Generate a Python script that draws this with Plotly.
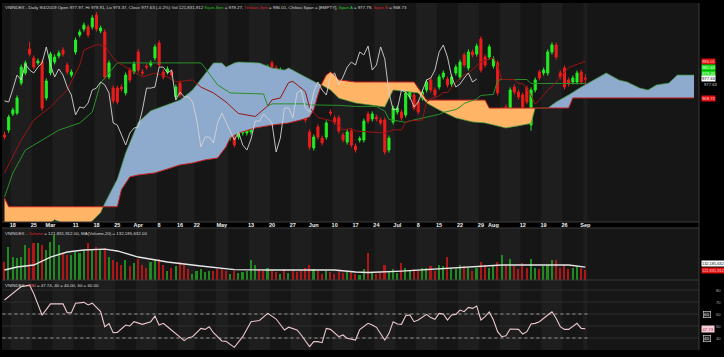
import numpy as np
import pandas as pd
import plotly.graph_objects as go

# ---------------- data ----------------
holidays = ["2019-04-15", "2019-04-30", "2019-05-01", "2019-09-02", "2019-09-03"]
trading_days = [d for d in pd.bdate_range("2019-02-14", "2019-10-10")
                if d.strftime("%Y-%m-%d") not in holidays]
N_BARS = 140  # 2019-02-14 .. 2019-09-04, the remaining slots are the projected cloud

tick_dates = ["2019-02-18", "2019-02-25", "2019-03-01", "2019-03-11", "2019-03-18", "2019-03-25",
              "2019-04-01", "2019-04-08", "2019-04-16", "2019-04-22", "2019-05-02", "2019-05-13",
              "2019-05-20", "2019-05-27", "2019-06-03", "2019-06-10", "2019-06-17", "2019-06-24",
              "2019-07-01", "2019-07-08", "2019-07-15", "2019-07-22", "2019-07-29", "2019-08-01",
              "2019-08-12", "2019-08-19", "2019-08-26", "2019-09-04"]
tick_text = ["18", "25", "Mar", "11", "18", "25", "Apr", "8", "16", "22", "May", "13", "20", "27",
             "Jun", "10", "17", "24", "Jul", "8", "15", "22", "29", "Aug", "12", "19", "26", "Sep"]

opens = [951.0, 953.3, 961.0, 961.4, 975.7, 980.5, 991.9, 987.6, 985.3, 985.7,
         968.6, 980.5, 985.7, 988.6, 991.4, 984.3, 979.5, 990.5, 998.6, 1001.4,
         1002.4, 1002.4, 1008.1, 1000.5, 1000.0, 978.6, 973.3, 973.3, 973.8, 971.0,
         981.9, 981.0, 990.5, 981.0, 983.8, 984.3, 987.6, 994.8, 981.0, 981.0,
         981.0, 969.1, 975.7, 967.6, 966.7, 961.9, 962.9, 966.7, 971.0, 973.3,
         975.7, 973.8, 962.9, 959.5, 949.5, 950.0, 950.0, 951.9, 951.9, 952.4,
         966.7, 974.3, 975.7, 977.2, 985.3, 982.9, 981.0, 973.3, 969.5, 973.8,
         971.0, 969.1, 966.2, 952.4, 944.8, 954.8, 949.5, 950.0, 961.9, 959.1,
         959.1, 951.0, 947.6, 952.9, 945.7, 948.6, 948.6, 961.0, 958.6, 959.5,
         958.1, 958.1, 943.8, 957.15, 961.9, 961.9, 960.5, 969.1, 970.0, 966.7,
         968.6, 972.4, 977.2, 972.4, 973.8, 978.6, 977.6, 975.25, 980.5, 978.6,
         989.1, 982.9, 990.5, 989.5, 996.7, 988.1, 988.1, 983.8, 985.3, 958.1,
         964.3, 963.8, 973.8, 971.4, 970.0, 973.3, 955.7, 972.4, 981.0, 980.5,
         980.5, 990.5, 993.8, 980.5, 982.9, 977.2, 976.2, 976.2, 981.0, 977.97]
highs = [952.5, 960.6, 964.0, 969.8, 984.5, 986.4, 995.3, 988.9, 987.4, 987.0,
         977.9, 990.6, 989.3, 991.2, 992.7, 985.5, 982.2, 997.4, 1001.2, 1004.5,
         1003.6, 1008.0, 1009.5, 1003.0, 1001.3, 986.5, 974.6, 974.5, 975.0, 980.7,
         983.1, 986.0, 991.8, 982.3, 985.0, 986.5, 994.1, 996.0, 982.2, 983.6,
         982.2, 975.0, 976.9, 968.8, 967.9, 965.0, 967.4, 973.6, 974.5, 977.4,
         976.9, 975.0, 964.1, 960.7, 952.2, 951.2, 953.1, 955.5, 956.0, 964.1,
         974.5, 975.5, 976.9, 984.5, 986.5, 984.1, 983.1, 974.5, 972.6, 975.0,
         972.2, 970.3, 967.4, 953.6, 951.2, 956.0, 950.7, 957.9, 963.1, 960.3,
         960.3, 952.2, 953.6, 954.1, 946.9, 950.3, 958.8, 962.2, 962.2, 960.7,
         959.3, 959.3, 950.7, 965.0, 965.0, 963.1, 972.2, 973.6, 971.2, 967.9,
         972.6, 977.4, 978.4, 973.6, 979.8, 981.7, 978.8, 979.8, 984.5, 986.9,
         990.3, 991.7, 991.7, 994.5, 997.9, 989.3, 994.1, 988.4, 986.5, 964.1,
         965.5, 973.6, 975.0, 972.6, 971.2, 974.5, 973.6, 978.4, 982.2, 983.1,
         991.7, 995.0, 995.0, 981.7, 984.1, 978.4, 979.3, 981.7, 982.2, 979.91]
lows = [948.8, 952.0, 960.0, 960.5, 974.6, 979.5, 988.4, 982.2, 984.2, 962.5,
        967.4, 979.4, 984.6, 987.5, 988.3, 979.8, 978.4, 989.3, 997.5, 1000.2,
        997.4, 1001.2, 1000.2, 999.4, 977.4, 977.5, 966.0, 965.5, 971.7, 969.8,
        976.0, 979.9, 980.7, 979.3, 982.1, 983.2, 986.4, 983.1, 977.4, 979.8,
        978.3, 967.9, 968.8, 959.3, 963.1, 960.7, 961.7, 965.5, 969.8, 972.1,
        973.6, 969.8, 955.5, 954.5, 948.3, 945.0, 948.8, 950.7, 950.7, 951.2,
        965.5, 972.1, 972.6, 976.0, 982.1, 979.3, 979.8, 966.4, 968.3, 967.9,
        967.9, 965.5, 956.9, 944.0, 943.6, 948.8, 946.0, 948.8, 960.2, 955.9,
        951.7, 947.4, 946.4, 945.0, 942.6, 947.4, 947.4, 956.4, 957.4, 957.4,
        955.5, 941.7, 942.6, 956.0, 960.7, 957.9, 959.3, 967.9, 962.6, 960.7,
        967.4, 971.2, 971.2, 968.8, 972.6, 977.4, 973.6, 974.0, 979.3, 977.4,
        983.1, 981.7, 987.9, 988.3, 980.7, 983.1, 986.9, 982.6, 969.8, 956.9,
        962.1, 962.6, 970.2, 967.9, 963.1, 965.5, 953.0, 971.2, 976.9, 979.3,
        979.3, 989.3, 986.9, 977.4, 972.6, 974.0, 975.0, 975.0, 975.0, 973.37]
closes = [950.0, 959.5, 962.9, 968.6, 983.3, 985.3, 989.5, 983.3, 986.2, 963.8,
          976.7, 989.5, 988.1, 990.0, 989.5, 981.0, 981.0, 996.2, 1000.0, 1003.3,
          998.6, 1006.7, 1001.4, 1001.9, 978.6, 985.3, 967.2, 966.7, 972.9, 979.5,
          977.2, 984.8, 981.9, 980.5, 983.3, 985.3, 992.9, 984.3, 978.6, 982.4,
          979.5, 973.8, 970.0, 960.5, 964.3, 963.8, 966.2, 972.4, 973.3, 976.2,
          974.8, 971.0, 956.7, 955.7, 951.0, 946.2, 951.9, 954.3, 954.8, 962.9,
          973.3, 973.3, 973.8, 983.3, 983.3, 980.5, 981.9, 967.6, 971.4, 969.1,
          969.1, 966.7, 958.1, 945.25, 950.0, 950.0, 947.2, 956.7, 961.4, 957.15,
          952.9, 948.6, 952.4, 946.2, 943.8, 949.1, 957.6, 957.6, 961.0, 958.6,
          956.7, 942.9, 949.5, 963.8, 963.8, 959.1, 971.0, 972.4, 963.8, 961.9,
          971.4, 976.2, 972.4, 970.0, 978.6, 980.5, 974.8, 978.6, 983.3, 985.7,
          984.3, 990.5, 989.1, 993.3, 981.9, 984.3, 992.9, 987.2, 971.0, 962.9,
          963.3, 972.4, 971.4, 969.1, 964.3, 966.7, 972.4, 977.2, 978.1, 981.9,
          990.5, 993.8, 988.1, 978.6, 973.8, 975.25, 978.1, 980.5, 976.2, 977.63]

volume_m = [150, 199, 166, 162, 166, 204, 194, 210, 210, 204,
            188, 215, 237, 204, 177, 172, 172, 183, 177, 188,
            210, 188, 199, 188, 194, 165, 155, 150, 140, 155,
            135, 145, 160, 140, 130, 150, 155, 160, 140, 120,
            130, 135, 150, 140, 125, 110, 120, 125, 115, 120,
            118, 125, 130, 120, 110, 118, 112, 115, 120, 155,
            140, 125, 120, 130, 120, 115, 110, 125, 112, 120,
            115, 120, 130, 140, 125, 120, 110, 120, 115, 110,
            118, 112, 115, 120, 108, 105, 125, 178, 115, 110,
            112, 140, 118, 125, 112, 145, 130, 120, 125, 118,
            130, 128, 135, 120, 140, 135, 165, 130, 125, 140,
            135, 130, 120, 130, 150, 140, 130, 135, 150, 172,
            140, 158, 135, 125, 145, 130, 158, 130, 125, 135,
            140, 155, 155, 130, 140, 125, 130, 135, 128, 121.83]

vol_ma_day = [0, 3, 7, 11, 15, 19, 24, 27, 32, 39, 47, 55, 63, 71, 79, 84, 87, 95, 103, 111, 119, 127, 135, 139]
vol_ma_m = [122.7, 132.5, 139.0, 165.0, 181.6, 188.0, 191.0, 185.0, 165.0, 149.0, 136.0, 124.0,
            122.7, 122.7, 122.7, 116.0, 114.5, 119.0, 126.0, 132.5, 139.0, 139.0, 139.0, 132.2]

tenkan_day = [0, 4, 7, 11, 15, 17, 18, 19, 22, 24, 26, 27, 33, 36, 39, 41, 45, 47, 50, 53, 56, 60, 63, 64,
              66, 68, 69, 72, 73, 75, 78, 80, 81, 83, 84, 87, 91, 93, 95, 96, 97, 100, 101, 102, 104,
              105, 106, 108, 109, 110, 111, 112, 113, 114, 117, 118, 119, 122, 123, 124, 125, 126, 127,
              128, 130, 131, 135, 136, 139]
tenkan_val = [932.9, 948.6, 958.1, 964.3, 972.4, 979.9, 984.3, 991.4, 994.0, 993.5, 987.7, 985.7, 978.6,
              980.5, 978.6, 976.2, 977.2, 973.8, 971.0, 966.7, 961.2, 959.8, 964.8, 967.7, 968.6, 976.0,
              976.5, 971.7, 964.1, 959.3, 957.9, 955.5, 953.4, 954.1, 952.9, 952.4, 952.0, 953.4, 953.4,
              957.0, 957.7, 958.1, 966.7, 968.2, 969.6, 971.2, 971.2, 976.0, 977.9, 979.6, 980.3, 982.2,
              984.1, 985.8, 987.7, 983.9, 977.4, 977.4, 975.5, 975.5, 972.7, 969.8, 965.7, 967.6, 972.4,
              974.0, 983.1, 983.8, 986.0]

kijun_day = [0, 2, 5, 9, 13, 18, 21, 23, 25, 27, 47, 48, 51, 54, 62, 63, 64, 72, 73, 80, 84, 89, 90, 91,
             92, 96, 97, 101, 104, 105, 108, 109, 110, 111, 113, 114, 117, 118, 119, 125, 126, 139]
kijun_val = [921.4, 932.9, 943.8, 948.6, 953.3, 956.7, 961.9, 975.7, 980.5, 985.3, 985.3, 982.9, 974.8,
             971.0, 970.5, 964.8, 965.8, 965.8, 965.3, 965.1, 964.6, 964.6, 963.4, 962.4, 958.4, 957.0,
             957.7, 959.6, 960.8, 961.7, 963.1, 964.3, 966.0, 966.7, 968.1, 969.8, 970.3, 977.0, 977.4,
             977.4, 975.5, 975.5]

span_a_day = [0, 8, 12, 14, 20, 23, 24, 27, 29, 32, 35, 39, 42, 45, 48, 50, 52, 53, 55, 56, 61, 64, 67,
              68, 72, 75, 76, 78, 80, 84, 91, 93, 99, 101, 104, 108, 112, 115, 120, 123, 126, 127, 130,
              132, 135, 138, 141, 144, 147, 149, 152, 154, 156, 159, 161, 165]
span_a_val = [900.0, 905.0, 910.6, 909.0, 908.0, 914.0, 918.5, 930.0, 942.5, 957.0, 962.5, 965.3, 967.6,
              972.4, 980.0, 985.3, 985.3, 983.3, 985.3, 985.7, 985.3, 982.9, 981.9, 982.9, 978.6, 975.5,
              974.8, 972.4, 968.5, 966.2, 964.3, 972.4, 971.0, 966.2, 962.9, 959.1, 957.2, 956.7, 954.3,
              955.25, 956.5, 963.8, 963.8, 966.7, 970.0, 973.8, 977.2, 980.5, 977.2, 976.2, 973.3, 972.4,
              974.8, 975.7, 979.5, 979.5]
span_b_day = [0, 1, 27, 28, 30, 32, 36, 40, 42, 45, 48, 51, 53, 54, 56, 60, 64, 68, 71, 73, 74, 75, 76,
              77, 78, 79, 80, 84, 98, 101, 115, 116, 135, 136, 165]
span_b_val = [921.0, 916.8, 916.8, 925.0, 931.0, 931.9, 932.9, 935.3, 936.7, 937.6, 939.1, 940.0, 945.25,
              949.5, 951.9, 954.3, 955.7, 956.7, 958.1, 959.5, 963.0, 970.0, 975.7, 979.5, 981.0, 979.5,
              977.2, 976.2, 976.2, 967.6, 967.6, 963.8, 963.8, 968.6, 968.6]

rsi_day = [0, 4, 6, 7, 9, 11, 14, 15, 16, 17, 19, 20, 21, 23, 24, 25, 26, 27, 29, 30, 31, 33, 35, 36, 37,
           38, 39, 41, 43, 44, 45, 47, 48, 49, 50, 52, 53, 55, 57, 59, 61, 63, 64, 65, 67, 68, 70, 71, 73,
           74, 75, 76, 77, 78, 80, 81, 82, 84, 85, 86, 87, 88, 89, 91, 92, 93, 94, 95, 96, 97, 98, 99,
           101, 102, 103, 104, 105, 106, 107, 108, 109, 110, 111, 112, 113, 114, 115, 116, 117, 118, 119,
           120, 121, 123, 124, 125, 126, 127, 128, 130, 131, 132, 133, 134, 135, 137, 138, 139]
rsi_val = [71.7, 82.8, 84.0, 77.0, 59.0, 68.4, 68.4, 61.0, 61.0, 69.0, 69.7, 67.5, 69.0, 62.0, 49.4, 52.0,
           44.4, 44.7, 50.8, 50.0, 53.6, 51.4, 53.6, 58.3, 50.8, 52.2, 49.4, 43.9, 37.8, 40.3, 41.1, 48.0,
           47.2, 49.4, 44.4, 37.5, 37.2, 32.2, 41.1, 53.6, 54.6, 60.5, 57.8, 55.8, 46.7, 49.0, 46.7, 42.5,
           32.8, 37.0, 37.0, 36.1, 48.0, 47.2, 41.1, 42.5, 39.7, 38.3, 47.0, 49.4, 52.2, 50.8, 48.9, 38.3,
           43.9, 53.6, 51.7, 51.4, 58.6, 59.2, 53.6, 55.0, 59.7, 57.0, 55.6, 60.5, 60.0, 55.0, 59.2, 59.7,
           63.3, 61.9, 65.5, 64.7, 66.7, 55.0, 57.8, 61.7, 55.0, 45.3, 41.1, 41.9, 47.5, 47.2, 43.3, 45.3,
           51.7, 52.2, 53.6, 59.2, 61.9, 56.4, 49.4, 47.2, 47.2, 52.2, 48.0, 47.74]

CHIKOU_SHIFT = 26

# ---------------- layout geometry ----------------
W, H = 724, 357
ML, MR, MT, MB = 2, 25, 3, 7
PW, PH = W - ML - MR, H - MT - MB


def py(row):
    return (H - MB - row) / PH


def pxx(col):
    return (col - ML) / PW


FONT = "Liberation Sans, Arial, sans-serif"
BG = "#161616"
STRIPE = "#1e1e1e"
GREEN = "#22ee22"
RED = "#ee1c1c"

day_index = {d.strftime("%Y-%m-%d"): k for k, d in enumerate(trading_days)}
bars = list(range(N_BARS))

fig = go.Figure()

# ---- Ichimoku cloud (fills between span A and span B) ----
grid = sorted(set(span_a_day) | set(span_b_day))
ga = np.interp(grid, span_a_day, span_a_val)
gb = np.interp(grid, span_b_day, span_b_val)
gx, gA, gB = [grid[0]], [ga[0]], [gb[0]]
for k in range(1, len(grid)):
    d0, d1 = ga[k - 1] - gb[k - 1], ga[k] - gb[k]
    if d0 * d1 < 0:
        t = d0 / (d0 - d1)
        xc = grid[k - 1] + t * (grid[k] - grid[k - 1])
        yc = ga[k - 1] + t * (ga[k] - ga[k - 1])
        gx.append(xc); gA.append(yc); gB.append(yc)
    gx.append(grid[k]); gA.append(ga[k]); gB.append(gb[k])
gA, gB = np.array(gA), np.array(gB)
top = np.maximum(gA, gB)
nol = dict(width=0)
fig.add_trace(go.Scatter(x=gx, y=gB, mode="lines", line=nol, hoverinfo="skip", showlegend=False))
fig.add_trace(go.Scatter(x=gx, y=top, mode="lines", line=nol, fill="tonexty",
                         fillcolor="#8eaacd", hoverinfo="skip", showlegend=False))
fig.add_trace(go.Scatter(x=gx, y=gA, mode="lines", line=nol, hoverinfo="skip", showlegend=False))
fig.add_trace(go.Scatter(x=gx, y=top, mode="lines", line=nol, fill="tonexty",
                         fillcolor="#ffb466", hoverinfo="skip", showlegend=False))
fig.add_trace(go.Scatter(x=span_a_day, y=span_a_val, mode="lines",
                         line=dict(color="#3a9a3a", width=0.7), showlegend=False))
fig.add_trace(go.Scatter(x=span_b_day, y=span_b_val, mode="lines",
                         line=dict(color="#c41e1e", width=1), showlegend=False))

# ---- lines ----
fig.add_trace(go.Scatter(x=kijun_day, y=kijun_val, mode="lines",
                         line=dict(color="#2a8f2a", width=1), showlegend=False))
fig.add_trace(go.Scatter(x=tenkan_day, y=tenkan_val, mode="lines",
                         line=dict(color="#9a1414", width=1), showlegend=False))
fig.add_trace(go.Scatter(x=[b - CHIKOU_SHIFT for b in bars[CHIKOU_SHIFT:]], y=closes[CHIKOU_SHIFT:],
                         mode="lines", line=dict(color="#d4d4d4", width=0.9), showlegend=False))

# ---- candles ----
fig.add_trace(go.Candlestick(x=bars, open=opens, high=highs, low=lows, close=closes,
                             increasing=dict(line=dict(color=GREEN, width=1), fillcolor=GREEN),
                             decreasing=dict(line=dict(color=RED, width=1), fillcolor=RED),
                             whiskerwidth=0, showlegend=False, xaxis="x", yaxis="y"))

# ---- volume ----
vcol = ["#208a20" if c >= o else "#b01616" for o, c in zip(opens, closes)]
fig.add_trace(go.Bar(x=bars, y=volume_m, marker=dict(color=vcol, line=dict(width=0)), width=0.38,
                     xaxis="x2", yaxis="y2", showlegend=False))
fig.add_trace(go.Scatter(x=vol_ma_day, y=vol_ma_m, mode="lines", line=dict(color="#e6e6e6", width=1.4),
                         xaxis="x2", yaxis="y2", showlegend=False))

# ---- RSI ----
fig.add_trace(go.Scatter(x=rsi_day, y=rsi_val, mode="lines", line=dict(color="#ecc8cc", width=1.1),
                         xaxis="x3", yaxis="y3", showlegend=False))

# ---------------- shapes ----------------
shapes = []
weeks = {}
for k in bars:
    wk = trading_days[k].isocalendar()[:2]
    weeks.setdefault(wk, []).append(k)
for n, (wk, ks) in enumerate(sorted(weeks.items())):
    if n % 2 == 1:
        for yr in ("y domain", "y2 domain", "y3 domain"):
            shapes.append(dict(type="rect", xref="x", yref=yr, x0=ks[0] - 0.5, x1=ks[-1] + 0.5,
                               y0=0, y1=1, fillcolor=STRIPE, line=dict(width=0), layer="below"))
for lvl in (80, 70, 60, 50, 40):
    shapes.append(dict(type="line", xref="paper", yref="y3", x0=0, x1=1, y0=lvl, y1=lvl,
                       line=dict(color="#2c2c2c", width=1), layer="below"))
for lvl in (60, 40):
    shapes.append(dict(type="line", xref="x", yref="y3", x0=-0.5, x1=N_BARS - 0.5, y0=lvl, y1=lvl,
                       line=dict(color="#b8b8b8", width=0.8, dash="dot"), layer="below"))
for row in (222, 228, 280):
    shapes.append(dict(type="line", xref="paper", yref="paper", x0=0, x1=1, y0=py(row), y1=py(row),
                       line=dict(color="#3a3a3a", width=1)))
shapes.append(dict(type="line", xref="paper", yref="paper", x0=1, x1=1, y0=0, y1=1,
                   line=dict(color="#3a3a3a", width=1)))

# ---------------- annotations ----------------
ann = []
small = dict(family=FONT, size=4.4, color="#d8d8d8")
title_price = ("VNINDEX - Daily 9/4/2019 Open 977.97, Hi 979.91, Lo 973.37, Close 977.63 (-0.2%) "
               "Vol 121,831,912 <span style='color:#22cc22'>Kijun-Sen</span> = 979.27, "
               "<span style='color:#dd2222'>Tenkan-Sen</span> = 986.01, Chikou Span = [EMPTY], "
               "<span style='color:#22cc22'>Span A</span> = 977.79, "
               "<span style='color:#dd2222'>Span B</span> = 968.73")
ann.append(dict(text=title_price, xref="paper", yref="paper", x=pxx(3), y=py(2.5), xanchor="left",
                yanchor="top", showarrow=False, font=small))
ann.append(dict(text="VNINDEX - <span style='color:#dd2222'>Volume</span> = 121,831,912.00, "
                     "MA(Volume,20) = 132,185,632.00",
                xref="paper", yref="paper", x=pxx(3), y=py(229), xanchor="left", yanchor="top",
                showarrow=False, font=small))
ann.append(dict(text="VNINDEX - <span style='color:#f08080'>RSI</span> = 47.74, 40 = 40.00, 60 = 60.00",
                xref="paper", yref="paper", x=pxx(3), y=py(281), xanchor="left", yanchor="top",
                showarrow=False, font=small))

tag_font = dict(family=FONT, size=4.2)
# right-hand price tags, stacked top to bottom so they do not overlap
price_tags = [("986.01", 62.0, "#e01010", "#ffd0d0"),
              ("982.63", 67.5, "#10dd10", "#f0fff0"),
              ("979.26", 73.0, "#10dd10", "#f0fff0"),
              ("977.63", 78.5, "#ffffff", "#000000"),
              ("968.73", 98.0, "#e01010", "#ffd0d0")]
for txt, row, bg, fg in price_tags:
    ann.append(dict(text=txt, xref="paper", yref="paper", x=pxx(701), y=py(row), xanchor="left",
                    yanchor="middle", showarrow=False, bgcolor=bg, borderpad=0,
                    font=dict(tag_font, color=fg)))
ann.append(dict(text="977.63", xref="paper", yref="paper", x=pxx(702), y=py(84), xanchor="left",
                yanchor="middle", showarrow=False, font=dict(tag_font, color="#cfcfcf")))

vtag_font = dict(family=FONT, size=3.9)
ann.append(dict(text="132,185,632", xref="paper", yref="paper", x=pxx(700.5), y=py(263.5),
                xanchor="left", yanchor="middle", showarrow=False, bgcolor="#ffffff", borderpad=0,
                font=dict(vtag_font, color="#000000")))
ann.append(dict(text="121,831,912", xref="paper", yref="paper", x=pxx(700.5), y=py(270),
                xanchor="left", yanchor="middle", showarrow=False, bgcolor="#e01010", borderpad=0,
                font=dict(vtag_font, color="#ffd0d0")))

for lvl in (80, 70, 60, 50, 40):
    ann.append(dict(text=str(lvl), xref="paper", yref="y3", x=pxx(714), y=lvl, xanchor="left",
                    yanchor="middle", showarrow=False, font=dict(tag_font, color="#a8a8a8")))
for lvl in (60, 40):
    ann.append(dict(text=str(lvl), xref="paper", yref="y3", x=pxx(703), y=lvl, xanchor="left",
                    yanchor="middle", showarrow=False, bordercolor="#e0e0e0", borderwidth=0.6,
                    borderpad=0.5, bgcolor="#202020", font=dict(tag_font, color="#e0e0e0")))
ann.append(dict(text="47.73", xref="paper", yref="y3", x=pxx(701), y=47.74, xanchor="left",
                yanchor="middle", showarrow=False, bgcolor="#f4cdd6", borderpad=0.5,
                font=dict(tag_font, color="#a02040")))

# ---------------- axes ----------------
xr = [-0.6, 166.19]
axis_common = dict(range=xr, showgrid=False, zeroline=False, showline=False, fixedrange=True)
fig.update_layout(
    width=W, height=H,
    margin=dict(l=ML, r=MR, t=MT, b=MB, pad=0),
    paper_bgcolor="#000000", plot_bgcolor=BG,
    showlegend=False,
    xaxis=dict(axis_common, anchor="y", domain=[0, 1],
               tickmode="array", tickvals=[day_index[d] for d in tick_dates], ticktext=tick_text,
               ticks="", ticklabelstandoff=-2,
               tickfont=dict(family=FONT, size=5.5, color="#f2f2f2", weight="bold"),
               rangeslider=dict(visible=False)),
    xaxis2=dict(axis_common, anchor="y2", matches="x", showticklabels=False),
    xaxis3=dict(axis_common, anchor="y3", matches="x", showticklabels=False),
    yaxis=dict(domain=[py(222), 1], range=[909.54, 1013.82], showgrid=False, zeroline=False,
               showticklabels=False),
    yaxis2=dict(domain=[py(280), py(228)], range=[90, 260], showgrid=False, zeroline=False,
                showticklabels=False),
    yaxis3=dict(domain=[0, py(280)], range=[30, 88.33], showgrid=False, zeroline=False,
                showticklabels=False),
    shapes=shapes, annotations=ann,
    bargap=0,
)

fig.write_html("out.html", include_plotlyjs=True, config={"displayModeBar": False})
